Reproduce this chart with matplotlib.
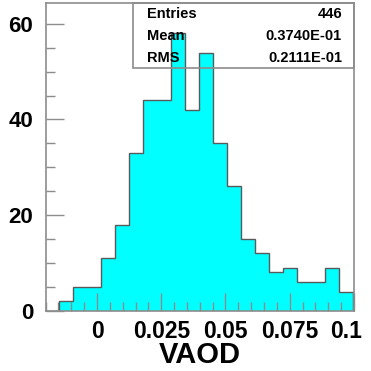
"""
VAOD histogram, ROOT-style (cyan fill, stats box in the top-right corner).
"""

import matplotlib
matplotlib.use('Agg')

import numpy as np
import matplotlib.pyplot as plt
from matplotlib.patches import Rectangle
from matplotlib.ticker import MultipleLocator
import matplotlib.transforms as mtransforms

# ─── Data ───
counts = [2, 5, 5, 11, 18, 33, 44, 44, 58, 42, 54, 35, 26, 15, 12, 8, 9, 6, 6, 9, 4]
bin_lo = -0.0149
bin_hi = 0.0998
edges = np.linspace(bin_lo, bin_hi, len(counts) + 1)

x_ticks = [0, 0.025, 0.05, 0.075, 0.1]
x_ticklabels = ['0', '0.025', '0.05', '0.075', '0.1']
y_ticks = [0, 20, 40, 60]

stats_names = ['Entries', 'Mean', 'RMS']
stats_values = ['446', '0.3740E-01', '0.2111E-01']
x_label = 'VAOD'

# ─── Style ───
plt.rcParams['font.family'] = ['Liberation Sans', 'DejaVu Sans']
plt.rcParams['font.weight'] = 'bold'
frame_col = '#8c8c8c'
edge_col = '#5a5a5a'

fig = plt.figure(figsize=(3.71, 3.71), dpi=100)
ax = fig.add_axes([0.123, 0.1625, 0.831, 0.830])

# histogram: fill first, then outline without the baseline
ax.stairs(counts, edges, fill=True, facecolor='#00ffff', edgecolor='none', zorder=1)
ax.stairs(counts, edges, fill=False, baseline=0, color=edge_col, linewidth=1.0, zorder=2)

ax.set_xlim(-0.02, 0.1)
ax.set_ylim(0, 64.4)

ax.set_xticks(x_ticks)
ax.set_xticklabels(x_ticklabels, fontsize=16.5, fontweight='bold')
ax.xaxis.set_minor_locator(MultipleLocator(0.005))
ax.set_yticks(y_ticks)
ax.set_yticklabels([str(v) for v in y_ticks], fontsize=16, fontweight='bold')
ax.yaxis.set_minor_locator(MultipleLocator(5))

ax.tick_params(axis='both', which='major', direction='in', length=13, width=1,
               color=frame_col, top=False, right=False)
ax.tick_params(axis='both', which='minor', direction='in', length=6.5, width=1,
               color=frame_col, top=False, right=False)
ax.tick_params(axis='x', which='major', pad=7)
ax.tick_params(axis='y', which='major', pad=9)

# last x label sits a bit to the left, as in ROOT
lbl = ax.get_xticklabels()[-1]
lbl.set_transform(lbl.get_transform() + mtransforms.ScaledTranslation(-8 / 100, 0, fig.dpi_scale_trans))

for sp in ax.spines.values():
    sp.set_color(frame_col)
    sp.set_linewidth(1.2)
    sp.set_zorder(3)

ax.set_xlabel(x_label, fontsize=21, fontweight='bold', labelpad=-1.5)

# ─── Stats box ───
box = Rectangle((0.284, 0.787), 0.716, 0.213, transform=ax.transAxes,
                facecolor='none', edgecolor=frame_col, linewidth=1.2, zorder=4,
                clip_on=False)
ax.add_patch(box)
rows_y = [0.963, 0.892, 0.820]
for name, val, yy in zip(stats_names, stats_values, rows_y):
    ax.text(0.328, yy, name, transform=ax.transAxes, fontsize=10.5, fontweight='bold',
            ha='left', va='center', zorder=5)
    ax.text(0.961, yy, val, transform=ax.transAxes, fontsize=10.5, fontweight='bold',
            ha='right', va='center', zorder=5)

fig.savefig('out.png', dpi=100)
plt.close(fig)
